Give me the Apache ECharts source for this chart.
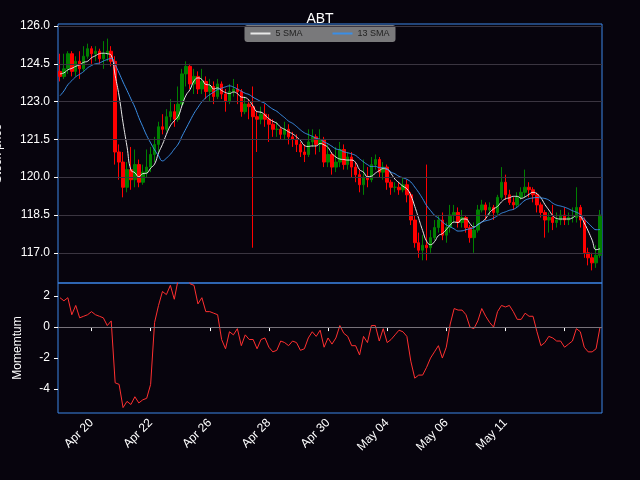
<!DOCTYPE html>
<html>
<head>
<meta charset="UTF-8">
<script src="https://cdn.jsdelivr.net/npm/echarts@6/dist/echarts.min.js"></script>
<style>
  * { margin: 0; padding: 0; }
  body { background: #07040d; }
  #chart { width: 640px; height: 480px; }
</style>
</head>
<body>
<div id="chart"></div>
<script>
// closes before the first drawn candle, only used for the averages / momentum
var priorCloses = [122.0, 121.8, 121.7, 122.1, 122.6, 123.0, 123.4, 123.2, 123.7, 124.1, 124.3, 123.9, 124.2];

// [open, close, low, high]
var candles = [
  [124.2,124.0,123.8,124.9],[124.0,124.3,123.9,124.9],[124.3,124.9,124.1,125.0],[124.9,124.2,124.0,125.0],[124.2,124.6,124.0,124.8],
  [124.6,124.3,123.9,125.0],[124.3,124.8,124.2,125.2],[124.8,125.1,124.7,125.3],[125.1,124.9,124.5,125.2],[124.9,125.0,124.6,125.2],
  [125.0,124.7,124.5,125.1],[124.7,124.9,124.3,125.4],[124.9,125.0,124.6,125.5],[125.0,124.6,124.4,125.2],[124.6,121.0,120.5,124.8],
  [121.0,120.6,119.9,121.3],[120.6,119.6,119.2,121.0],[119.6,120.3,119.4,120.6],[120.3,119.9,119.5,121.2],[119.9,120.5,119.6,121.1],
  [120.5,119.8,119.6,120.7],[119.8,120.2,119.7,120.5],[120.2,120.4,120.0,121.1],[120.4,120.9,120.2,121.2],[120.9,121.3,120.6,121.6],
  [121.3,122.0,121.0,122.2],[122.0,121.9,121.7,122.5],[121.9,122.4,121.8,122.7],[122.4,122.6,122.2,123.1],[122.6,122.3,122.0,122.9],
  [122.3,122.9,122.2,123.6],[122.9,124.1,122.8,124.3],[124.1,124.4,123.6,124.6],[124.4,123.7,123.5,124.5],[123.7,124.0,123.3,124.3],
  [124.0,123.5,123.3,124.2],[123.5,123.8,123.3,124.3],[123.8,123.4,123.1,124.0],[123.4,123.6,123.0,123.9],[123.6,123.2,122.9,123.8],
  [123.2,123.7,123.1,123.9],[123.7,123.3,123.1,123.8],[123.3,123.0,122.6,123.5],[123.0,123.4,122.9,123.7],[123.4,123.5,123.2,123.9],
  [123.5,123.4,122.9,123.7],[123.4,122.6,122.4,123.5],[122.6,122.9,122.5,123.2],[122.9,122.8,122.3,123.1],[122.8,122.4,117.2,123.6],
  [122.4,122.3,121.0,122.6],[122.3,122.5,122.1,122.8],[122.5,122.3,122.0,122.9],[122.3,122.1,121.4,122.5],[122.1,121.9,121.6,122.3],
  [121.9,121.9,121.6,122.2],[121.9,121.7,121.5,122.0],[121.7,121.9,121.5,122.2],[121.9,121.6,121.3,122.1],[121.6,121.5,121.2,121.8],
  [121.5,121.3,121.0,121.7],[121.3,121.0,120.8,121.4],[121.0,120.9,120.6,121.3],[120.9,121.4,120.8,121.9],[121.4,121.6,121.2,121.9],
  [121.6,121.3,120.9,121.7],[121.3,121.5,121.0,121.9],[121.5,120.6,120.4,121.6],[120.6,120.9,120.4,121.3],[120.9,120.4,120.1,121.0],
  [120.4,120.6,120.2,121.2],[120.6,121.1,120.4,121.4],[121.1,120.5,120.3,121.3],[120.5,120.8,120.3,121.0],[120.8,120.4,120.0,121.0],
  [120.4,120.1,119.8,120.6],[120.1,119.7,119.4,120.3],[119.7,120.0,119.3,120.7],[120.0,119.9,119.6,120.4],[119.9,120.5,119.8,120.8],
  [120.5,120.7,120.3,120.9],[120.7,120.2,120.0,120.8],[120.2,120.4,119.9,120.6],[120.4,119.8,119.5,120.5],[119.8,119.6,119.3,119.9],
  [119.6,119.6,119.4,119.8],[119.6,119.5,119.3,119.8],[119.5,119.7,119.4,120.0],[119.7,119.3,119.0,119.9],[119.3,118.3,118.1,119.4],
  [118.3,117.4,117.2,118.5],[117.4,117.1,116.8,117.8],[117.1,117.3,116.7,117.7],[117.3,117.2,116.7,120.5],[117.2,117.6,117.0,117.9],
  [117.6,118.0,117.5,118.3],[118.0,118.3,117.8,118.5],[118.3,117.7,117.5,118.6],[117.7,118.0,117.4,118.2],[118.0,118.5,117.8,118.9],
  [118.5,118.6,118.2,118.9],[118.6,118.2,118.0,118.8],[118.2,118.4,118.0,118.7],[118.4,118.0,117.8,118.5],[118.0,117.6,117.4,118.1],
  [117.6,117.9,117.0,118.2],[117.9,118.7,117.8,118.9],[118.7,118.9,118.6,119.1],[118.9,118.7,118.3,119.0],[118.7,118.8,118.5,119.0],
  [118.8,118.6,118.3,118.9],[118.6,119.2,118.5,119.3],[119.2,119.8,119.1,120.4],[119.8,119.3,119.1,120.1],[119.3,119.0,118.9,119.5],
  [119.0,118.9,118.7,119.2],[118.9,119.2,118.8,119.4],[119.2,119.4,119.1,119.6],[119.4,119.6,119.2,120.3],[119.6,119.5,119.2,119.8],
  [119.5,119.3,119.0,119.6],[119.3,118.9,118.6,119.4],[118.9,118.6,118.4,119.0],[118.6,118.3,117.6,118.7],[118.3,118.4,117.8,118.6],
  [118.4,118.2,117.9,118.9],[118.2,118.3,118.0,118.6],[118.3,118.5,118.1,118.7],[118.5,118.3,118.1,118.8],[118.3,118.4,118.1,118.6],
  [118.4,118.4,118.2,118.8],[118.4,118.8,118.2,119.6],[118.8,118.3,118.0,118.9],[118.3,117.0,116.8,118.4],[117.0,116.8,116.5,117.2],
  [116.8,116.6,116.3,117.0],[116.6,116.9,116.4,117.3],[116.9,118.5,116.8,118.7]
];

// index of candle -> date label on the x axis ('' = tick only)
var tickIdx = [8, 23, 38, 53, 68, 83, 98, 113, 128];
var tickText = ['Apr 20', 'Apr 22', 'Apr 26', 'Apr 28', 'Apr 30', 'May 04', 'May 06', 'May 11', ''];

var priceTicks = [117.0, 118.5, 120.0, 121.5, 123.0, 124.5, 126.0];
var momTicks = [-4, -2, 0, 2];

var closes = priorCloses.concat(candles.map(function (c) { return c[1]; }));
var off = priorCloses.length;

function sma(n) {
  var out = [];
  for (var i = 0; i < candles.length; i++) {
    var s = 0;
    for (var k = 0; k < n; k++) s += closes[off + i - k];
    out.push(+(s / n).toFixed(3));
  }
  return out;
}
function momentum(n) {
  var out = [];
  for (var i = 0; i < candles.length; i++) out.push(+(closes[off + i] - closes[off + i - n]).toFixed(3));
  return out;
}

var cats = candles.map(function (c, i) { return String(i); });
function labelOf(i) { var k = tickIdx.indexOf(+i); return k < 0 ? '' : tickText[k]; }
function isTick(i) { return tickIdx.indexOf(i) >= 0; }

var frame = '#3d86e8';
var txt = '#ffffff';

var chart = echarts.init(document.getElementById('chart'));
chart.setOption({
  backgroundColor: '#07040d',
  animation: false,
  title: { text: 'ABT', left: 'center', top: 7, textStyle: { color: txt, fontSize: 14, fontWeight: 'normal' } },
  legend: {
    top: 25, left: 'center', itemWidth: 20, itemHeight: 2, itemGap: 30,
    backgroundColor: 'rgba(160,160,160,0.75)', borderRadius: 3, padding: [4, 6],
    textStyle: { color: '#222', fontSize: 9 },
    data: [{ name: '5 SMA', icon: 'rect' }, { name: '13 SMA', icon: 'rect' }]
  },
  grid: [
    { left: 58, right: 38, top: 24, height: 259, outerBoundsMode: 'none', containLabel: false,
      show: true, borderColor: frame, borderWidth: 1, backgroundColor: 'transparent' },
    { left: 58, right: 38, top: 283, height: 130, outerBoundsMode: 'none', containLabel: false,
      show: true, borderColor: frame, borderWidth: 1, backgroundColor: 'transparent' }
  ],
  xAxis: [
    { type: 'category', gridIndex: 0, data: cats, boundaryGap: true, axisLine: { show: false }, axisTick: { show: false }, axisLabel: { show: false } },
    { type: 'category', gridIndex: 1, data: cats, boundaryGap: true, axisLine: { show: false },
      axisTick: { show: true, alignWithLabel: true, interval: function (i) { return isTick(i); }, lineStyle: { color: txt }, length: 4 },
      axisLabel: { interval: function (i) { return isTick(i); }, formatter: labelOf, rotate: 45, color: txt, fontSize: 12, margin: 8 } }
  ],
  yAxis: [
    { type: 'value', gridIndex: 0, min: 115.8, max: 126.08, name: 'Stock price', nameLocation: 'middle', nameGap: 54,
      nameTextStyle: { color: txt, fontSize: 12 },
      axisLine: { show: false }, splitLine: { show: false },
      axisTick: { show: true, customValues: priceTicks, lineStyle: { color: txt }, length: 4 },
      axisLabel: { customValues: priceTicks, color: txt, fontSize: 12, formatter: function (v) { return v.toFixed(1); } } },
    { type: 'value', gridIndex: 1, min: -5.55, max: 2.85, name: 'Momemtum', nameLocation: 'middle', nameGap: 34,
      nameTextStyle: { color: txt, fontSize: 12 },
      axisLine: { show: false }, splitLine: { show: false },
      axisTick: { show: true, customValues: momTicks, lineStyle: { color: txt }, length: 4 },
      axisLabel: { customValues: momTicks, color: txt, fontSize: 12 } }
  ],
  series: [
    { type: 'candlestick', xAxisIndex: 0, yAxisIndex: 0, data: candles, barWidth: 3,
      itemStyle: { color: '#008000', color0: '#ff0000', borderColor: '#008000', borderColor0: '#ff0000', borderWidth: 1 },
      markLine: { silent: true, symbol: 'none', label: { show: false },
        lineStyle: { color: '#3a3540', type: 'solid', width: 1 },
        data: priceTicks.map(function (v) { return { yAxis: v }; }) } },
    { name: '5 SMA', type: 'line', xAxisIndex: 0, yAxisIndex: 0, data: sma(5), smooth: true, showSymbol: false,
      itemStyle: { color: '#e8e8e8' }, lineStyle: { color: '#e8e8e8', width: 1 } },
    { name: '13 SMA', type: 'line', xAxisIndex: 0, yAxisIndex: 0, data: sma(13), smooth: true, showSymbol: false,
      itemStyle: { color: '#3a8ee6' }, lineStyle: { color: '#3a8ee6', width: 1 } },
    { type: 'line', xAxisIndex: 1, yAxisIndex: 1, data: momentum(10), showSymbol: false,
      lineStyle: { color: '#ff3030', width: 1 },
      markLine: { silent: true, symbol: 'none', label: { show: false },
        lineStyle: { color: '#77727a', type: 'solid', width: 1 }, data: [{ yAxis: 0 }] } }
  ]
});
</script>
</body>
</html>
